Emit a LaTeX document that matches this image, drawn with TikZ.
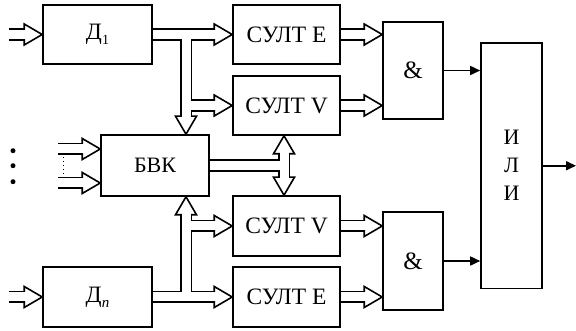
\documentclass[tikz,border=0pt]{standalone}
\usepackage{fontspec}
\setmainfont{Liberation Serif}
\usetikzlibrary{arrows.meta}
\newcommand\hR[1]{\draw[headS] (#1) -- ++(-18,-10.5) -- ++(0,21) -- cycle;}
\newcommand\hD[1]{\draw[headS] (#1) -- ++(-10.5,-18) -- ++(21,0) -- cycle;}
\newcommand\hU[1]{\draw[headS] (#1) -- ++(-10.5,18) -- ++(21,0) -- cycle;}
\begin{document}
\begin{tikzpicture}[x=1pt,y=-1pt,
  box/.style={draw, line width=1.6pt, inner sep=0pt, font=\fontsize{22}{24}\selectfont},
  sult/.style={box, font=\fontsize{23.5}{26}\selectfont},
  dbox/.style={box, font=\fontsize{23.5}{26}\selectfont},
  andbox/.style={box, font=\fontsize{25}{28}\selectfont},
  shaftB/.style={draw=black, line width=12.2pt, line cap=butt, line join=miter},
  shaftW/.style={draw=white, line width=9pt, line cap=butt, line join=miter},
  headS/.style={draw=black, fill=white, line width=1.6pt, line join=miter},
  wire/.style={draw, line width=1.6pt, -{Triangle[length=10pt,width=9pt]}},
]
\useasboundingbox (0,0) rectangle (576,331);
% blocks
\node[dbox, minimum width=109pt, minimum height=59pt] (D1) at (97.5,34.5) {Д\raisebox{-5pt}{\fontsize{14}{14}\selectfont 1}};
\node[dbox, minimum width=109pt, minimum height=60pt] (Dn) at (97.5,297) {Д\raisebox{-5pt}{\fontsize{15}{15}\selectfont\itshape n}};
\node[box, minimum width=108pt, minimum height=61pt] (BVK) at (155,165.5) {БВК};
\node[sult, minimum width=107pt, minimum height=59pt] (SE1) at (286.5,34.5) {СУЛТ E};
\node[sult, minimum width=107pt, minimum height=59pt] (SV1) at (286.5,105.5) {СУЛТ V};
\node[sult, minimum width=107pt, minimum height=60pt] (SV2) at (286.5,226) {СУЛТ V};
\node[sult, minimum width=107pt, minimum height=60pt] (SE2) at (286.5,297) {СУЛТ E};
\node[andbox, minimum width=60pt, minimum height=97pt] (A1) at (413,70.5) {\&};
\node[andbox, minimum width=60pt, minimum height=98pt] (A2) at (413,261) {\&};
\node[box, minimum width=61pt, minimum height=245.5pt, align=center,
      font=\fontsize{22}{28}\selectfont] (OR) at (511.5,165.75) {И\\Л\\И};
% free ends and junctions
\coordinate (in1) at (9,34.5);
\coordinate (in2) at (9,297);
\coordinate (in3) at (58,149);
\coordinate (in4) at (58,183);
\coordinate (out) at (576,165.75);
\coordinate (vx) at (186,0);
\coordinate (wx) at (284,0);
\coordinate (t3) at (BVK.west |- in3);
\coordinate (t4) at (BVK.west |- in4);
\coordinate (j1) at (vx |- D1.east);
\coordinate (j2) at (vx |- SV1.west);
\coordinate (t5) at (vx |- BVK.north);
\coordinate (j3) at (vx |- Dn.east);
\coordinate (j4) at (vx |- SV2.west);
\coordinate (t6) at (vx |- BVK.south);
\coordinate (t7) at (wx |- SV1.south);
\coordinate (t8) at (wx |- SV2.north);
\coordinate (j5) at (wx |- BVK.east);
\coordinate (a1) at (SE1.east -| A1.west);
\coordinate (a2) at (SV1.east -| A1.west);
\coordinate (a3) at (SV2.east -| A2.west);
\coordinate (a4) at (SE2.east -| A2.west);
% heads
\hR{D1.west} \hR{Dn.west} \hR{t3} \hR{t4}
\hR{SE1.west} \hR{SV1.west} \hR{SV2.west} \hR{SE2.west}
\hR{a1} \hR{a2} \hR{a3} \hR{a4}
\hD{t5} \hD{t8} \hU{t6} \hU{t7}
% hollow shafts
\def\shaftsB{
 (in1) -- ([xshift=-18pt]D1.west)
 (in2) -- ([xshift=-18pt]Dn.west)
 (in3) -- ([xshift=-18pt]t3)
 (in4) -- ([xshift=-18pt]t4)
 (D1.east) -- ([xshift=-18pt]SE1.west)
 (j1) -- ([yshift=18pt]t5)
 (j2) -- ([xshift=-18pt]SV1.west)
 (Dn.east) -- ([xshift=-18pt]SE2.west)
 (j3) -- ([yshift=-18pt]t6)
 (j4) -- ([xshift=-18pt]SV2.west)
 (BVK.east) -- (j5)
 ([yshift=-18pt]t7) -- ([yshift=18pt]t8)
 (SE1.east) -- ([xshift=-18pt]a1)
 (SV1.east) -- ([xshift=-18pt]a2)
 (SV2.east) -- ([xshift=-18pt]a3)
 (SE2.east) -- ([xshift=-18pt]a4)
}
\def\shaftsW{
 (in1) -- ([xshift=-15pt]D1.west)
 (in2) -- ([xshift=-15pt]Dn.west)
 (in3) -- ([xshift=-15pt]t3)
 (in4) -- ([xshift=-15pt]t4)
 (D1.east) -- ([xshift=-15pt]SE1.west)
 (j1) -- ([yshift=15pt]t5)
 (j2) -- ([xshift=-15pt]SV1.west)
 (Dn.east) -- ([xshift=-15pt]SE2.west)
 (j3) -- ([yshift=-15pt]t6)
 (j4) -- ([xshift=-15pt]SV2.west)
 (BVK.east) -- (j5)
 ([yshift=-15pt]t7) -- ([yshift=15pt]t8)
 (SE1.east) -- ([xshift=-15pt]a1)
 (SV1.east) -- ([xshift=-15pt]a2)
 (SV2.east) -- ([xshift=-15pt]a3)
 (SE2.east) -- ([xshift=-15pt]a4)
}
\draw[shaftB] \shaftsB;
\draw[shaftW] \shaftsW;
% single wires
\draw[wire] (A1.east) -- (A1.east -| OR.west);
\draw[wire] (A2.east) -- (A2.east -| OR.west);
\draw[wire] (OR.east) -- (out);
% ellipsis marks
\fill (13,150.7) circle (2.5pt);
\fill (13,165.7) circle (2.5pt);
\fill (13,181.7) circle (2.5pt);
\draw[line width=1pt, dash pattern=on 1pt off 3pt] (63,157) -- (63,176);
\end{tikzpicture}
\end{document}
